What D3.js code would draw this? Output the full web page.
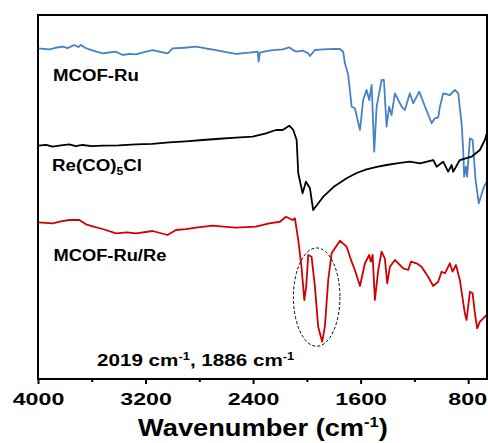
<!DOCTYPE html>
<html><head><meta charset="utf-8">
<script src="https://cdn.jsdelivr.net/npm/d3@7"></script>
<style>
html,body{margin:0;padding:0;background:#fff;}
svg{display:block;}
text{font-family:"Liberation Sans",Arial,sans-serif;font-weight:bold;fill:#000;}
</style></head>
<body>
<script>
// ---------- data (wavenumber cm-1, transmittance a.u.) ----------
const majorTicks = [4000, 3200, 2400, 1600, 800];
const minorTicks = [3600, 2800, 2000, 1200];
const seriesNames = ["MCOF-Ru", "Re(CO)5Cl", "MCOF-Ru/Re"];
const seriesColors = ["#4682c4", "#000000", "#d00000"];

const mcofRu = [
 [4000,90.85],[3916,90.58],[3870,91.0],[3816,91.29],[3780,90.9],[3730,91.76],[3700,91.2],[3680,91.76],[3650,91.0],[3619,90.58],
 [3570,90.0],[3519,89.48],[3470,89.7],[3420,89.92],[3370,89.01],[3320,89.3],[3271,89.2],[3210,89.8],[3147,90.38],[3090,89.9],
 [3036,89.48],[2998,90.85],[2910,91.0],[2825,91.29],[2750,90.8],[2676,90.38],[2600,89.8],[2528,89.29],[2470,89.5],[2429,89.64],
 [2366,89.92],[2359,87.17],[2349,89.64],[2310,90.0],[2280,90.19],[2230,90.4],[2180,90.58],[2131,91.13],[2100,90.3],[2076,89.92],
 [2030,90.2],[1990,89.48],[1977,88.74],[1940,90.38],[1878,90.58],[1800,90.7],[1754,90.66],[1730,89.92],[1717,86.73],[1692,83.52],
 [1667,74.81],[1643,74.37],[1605,68.41],[1581,76.65],[1556,79.4],[1536,76.65],[1518,80.77],[1499,62.45],[1481,74.81],[1444,82.14],
 [1427,82.14],[1407,69.31],[1388,74.81],[1370,72.53],[1345,78.49],[1295,74.81],[1271,73.9],[1234,78.49],[1209,75.74],[1164,78.93],
 [1135,76.18],[1072,70.25],[1048,71.62],[1023,71.9],[1010,74.81],[986,78.49],[936,78.02],[899,79.4],[874,78.49],[849,70.25],
 [837,62.91],[830,55.58],[817,58.32],[808,55.58],[787,66.13],[767,65.66],[745,54.67],[721,48.27],[683,52.83],[661,54.2]
];
const reCO5Cl = [
 [4000,64.09],[3940,64.3],[3891,63.82],[3830,64.2],[3767,64.48],[3720,64.0],[3668,64.29],[3600,64.0],[3519,64.09],[3400,64.2],
 [3271,64.48],[3150,64.6],[3024,65.03],[2900,65.3],[2775,65.66],[2650,66.0],[2528,66.29],[2403,66.57],[2304,67.5],[2230,68.41],
 [2180,68.41],[2131,69.59],[2101,68.41],[2076,65.66],[2064,56.51],[2032,51.02],[2007,54.2],[1977,52.39],[1953,46.43],[1878,50.08],
 [1800,52.8],[1704,55.14],[1630,56.6],[1556,57.61],[1480,58.3],[1407,58.79],[1320,59.3],[1234,59.7],[1159,59.26],[1060,60.16],
 [1035,58.32],[986,59.7],[949,56.95],[923,58.79],[912,56.95],[862,60.16],[775,61.07],[713,62.91],[676,65.66],[661,67.5]
];
const mcofRuRe = [
 [4000,43.05],[3891,42.77],[3830,43.3],[3767,43.68],[3693,43.68],[3643,42.5],[3580,41.8],[3519,41.21],[3420,40.03],[3340,40.3],
 [3271,40.03],[3147,40.66],[3036,39.56],[2974,40.93],[2900,41.2],[2825,41.57],[2701,42.12],[2600,41.8],[2528,41.57],[2379,41.84],
 [2280,42.77],[2200,43.2],[2156,44.59],[2106,43.68],[2089,44.15],[2064,38.19],[2040,30.85],[2019,21.7],[2005,25.36],[1990,34.07],
 [1965,33.6],[1940,25.36],[1916,14.37],[1886,10.25],[1866,14.37],[1841,27.2],[1816,34.53],[1754,37.99],[1704,36.35],[1667,32.23],
 [1643,29.95],[1605,25.55],[1568,31.79],[1536,34.07],[1524,32.23],[1511,34.07],[1494,21.7],[1469,29.95],[1444,34.97],[1420,33.16],
 [1402,26.29],[1382,30.85],[1345,32.69],[1283,30.41],[1246,29.95],[1226,32.23],[1184,31.79],[1147,30.85],[1098,28.1],[1060,25.55],
 [1023,26.73],[998,29.48],[973,29.04],[936,31.79],[916,29.48],[891,31.32],[862,27.2],[825,18.05],[812,16.21],[787,23.98],
 [767,23.54],[750,18.05],[733,13.93],[713,15.74],[688,16.68],[661,17.58]
];
const seriesData = [mcofRu, reCO5Cl, mcofRuRe];
// highlighted region (center wavenumber, half-width, center value, half-height)
const highlight = {cx: 1927, rx: 173, cy: 22.5, ry: 13.5};

// ---------- layout ----------
const W = 488, H = 443;
const m = {left: 38, right: 1, top: 15, bottom: 64};
const svg = d3.select("body").append("svg").attr("width", W).attr("height", H);

const x = d3.scaleLinear().domain([4000, 660]).range([m.left, W - m.right]);
const y = d3.scaleLinear().domain([0, 100]).range([H - m.bottom, m.top]);

function fitWidth(sel, target, anchor) {
  const node = sel.node();
  const bb = node.getBBox();
  const s = target / bb.width;
  const ax = anchor === "middle" ? bb.x + bb.width / 2 : bb.x;
  sel.attr("transform", `translate(${ax},0) scale(${s},1) translate(${-ax},0)`);
}

const line = d3.line().x(d => x(d[0])).y(d => y(d[1])).curve(d3.curveLinear);

const plot = svg.append("g");
plot.append("defs").append("clipPath").attr("id", "clip")
  .append("rect").attr("x", m.left).attr("y", m.top)
  .attr("width", W - m.right - m.left).attr("height", H - m.bottom - m.top);

seriesData.forEach((d, i) => {
  plot.append("path").datum(d)
    .attr("d", line)
    .attr("fill", "none")
    .attr("stroke", seriesColors[i])
    .attr("stroke-width", 1.8)
    .attr("stroke-linejoin", "round")
    .attr("clip-path", "url(#clip)");
});

// dashed ellipse
plot.append("ellipse")
  .attr("cx", x(highlight.cx))
  .attr("cy", y(highlight.cy))
  .attr("rx", Math.abs(x(highlight.cx - highlight.rx) - x(highlight.cx)))
  .attr("ry", Math.abs(y(highlight.cy + highlight.ry) - y(highlight.cy)))
  .attr("fill", "none").attr("stroke", "#000").attr("stroke-width", 1)
  .attr("stroke-dasharray", "3,2");

// frame
svg.append("rect")
  .attr("x", m.left).attr("y", m.top)
  .attr("width", W - m.right - m.left).attr("height", H - m.bottom - m.top)
  .attr("fill", "none").attr("stroke", "#000").attr("stroke-width", 2);

// axes
const gx = svg.append("g").attr("transform", `translate(0,${H - m.bottom})`)
  .call(d3.axisBottom(x).tickValues(majorTicks).tickSize(5).tickFormat(d3.format("d")));
gx.select(".domain").remove();
gx.selectAll(".tick line").attr("stroke-width", 2);
gx.selectAll(".tick text").attr("dy", null).attr("y", 26)
  .style("font-size", "17px").style("font-family", "'Liberation Sans',Arial,sans-serif").style("font-weight", "bold")
  .each(function(d) {
    const sel = d3.select(this);
    const n = String(d).length;
    fitWidth(sel, 12.9 * n, "middle");
  });
// keep the last tick label inside the picture
gx.selectAll(".tick").filter(d => d === 800).select("text").each(function() {
  const bb = this.getBoundingClientRect();
  if (bb.right > W - 1) {
    const t = d3.select(this);
    t.attr("x", -(bb.right - (W - 1)));
    fitWidth(t, 38.7, "middle");
  }
});

const gm = svg.append("g").attr("transform", `translate(0,${H - m.bottom})`)
  .call(d3.axisBottom(x).tickValues(minorTicks).tickSize(3).tickFormat(""));
gm.select(".domain").remove();
gm.selectAll(".tick line").attr("stroke-width", 2);

// axis title
const title = svg.append("text").attr("x", 263).attr("y", 436.5)
  .attr("text-anchor", "middle").style("font-size", "23px");
title.append("tspan").text("Wavenumber (cm");
title.append("tspan").attr("dy", -9).style("font-size", "14px").text("-1");
title.append("tspan").attr("dy", 9).text(")");
fitWidth(title, 250, "middle");

// series labels
const lab1 = svg.append("text").attr("x", 53).attr("y", 81).style("font-size", "17px").text(seriesNames[0]);
fitWidth(lab1, 86, "start");

const lab2 = svg.append("text").attr("x", 52).attr("y", 171.5).style("font-size", "17px");
lab2.append("tspan").text("Re(CO)");
lab2.append("tspan").attr("dy", 4).style("font-size", "11px").text("5");
lab2.append("tspan").attr("dy", -4).text("Cl");
fitWidth(lab2, 90, "start");

const lab3 = svg.append("text").attr("x", 53.5).attr("y", 261).style("font-size", "17px").text(seriesNames[2]);
fitWidth(lab3, 113, "start");

// peak annotation
const ann = svg.append("text").attr("x", 97).attr("y", 366.5).style("font-size", "16px");
ann.append("tspan").text("2019 cm");
ann.append("tspan").attr("dy", -6).style("font-size", "10px").text("-1");
ann.append("tspan").attr("dy", 6).text(", 1886 cm");
ann.append("tspan").attr("dy", -6).style("font-size", "10px").text("-1");
fitWidth(ann, 198, "start");
</script>
</body></html>
